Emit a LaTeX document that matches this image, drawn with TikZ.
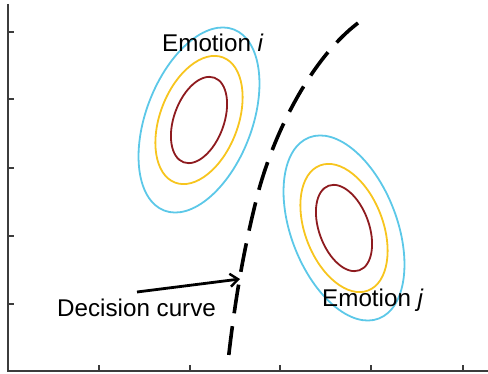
\documentclass[tikz,border=0pt]{standalone}
\usepackage{fontspec}
\setmainfont{Liberation Sans}
\usetikzlibrary{arrows.meta}
\definecolor{cyanc}{RGB}{92,200,232}
\definecolor{yellowc}{RGB}{247,197,30}
\definecolor{redc}{RGB}{142,27,31}
\definecolor{axisc}{RGB}{60,60,60}
\begin{document}
\begin{tikzpicture}[x=1pt,y=-1pt,
  axisline/.style={draw=axisc,line width=1.6pt},
  tickline/.style={draw=axisc,line width=1.3pt},
  contour/.style={line width=1.8pt},
  lbl/.style={anchor=base west,inner sep=0pt,font=\fontsize{24.2}{29}\selectfont},
  dcurve/.style={line width=3.6pt,dash pattern=on 29pt off 13pt},
  pointer/.style={line width=2.8pt,-{Straight Barb[length=8pt,width=13pt,line width=2.4pt]}}]
\useasboundingbox (0,0) rectangle (488,374);
% axes
\coordinate (o) at (8,371);
\coordinate (ytop) at (8,4);
\coordinate (xend) at (488,371);
\draw[axisline] (ytop) -- (o) -- (xend);
\foreach \yy in {32,99,168,236,304} \draw[tickline] (8,\yy) -- (14,\yy);
\foreach \xx in {99,190,280,371,463} \draw[tickline] (\xx,371) -- (\xx,365);
% ellipses i
\coordinate (ci) at (199,120);
\draw[contour,cyanc,rotate around={-21:(ci)}] (ci) ellipse [x radius=53pt,y radius=97pt];
\draw[contour,yellowc,rotate around={-21:(ci)}] (ci) ellipse [x radius=39pt,y radius=67pt];
\draw[contour,redc,rotate around={-20:(ci)}] (ci) ellipse [x radius=25pt,y radius=45pt];
% ellipses j
\coordinate (cj) at (344,228);
\draw[contour,cyanc,rotate around={21:(cj)}] (cj) ellipse [x radius=53pt,y radius=97pt];
\draw[contour,yellowc,rotate around={21:(cj)}] (cj) ellipse [x radius=39pt,y radius=67pt];
\draw[contour,redc,rotate around={20:(cj)}] (cj) ellipse [x radius=25pt,y radius=45pt];
% decision curve
\coordinate (dtop) at (358,23);
\coordinate (dbot) at (228,362);
\draw[dcurve] (dtop) .. controls (312,58) and (275,130) .. (258,193) .. controls (246,240) and (236,290) .. (dbot);
% labels
\node[lbl] (ei) at (162,52) {Emotion \textit{i}};
\node[lbl] (ej) at (322,307) {Emotion \textit{j}};
\node[lbl] (dc) at (57,317) {Decision curve};
\coordinate (astart) at (137,292);
\coordinate (atip) at (240,279);
\draw[pointer] (astart) -- (atip);
\end{tikzpicture}
\end{document}
